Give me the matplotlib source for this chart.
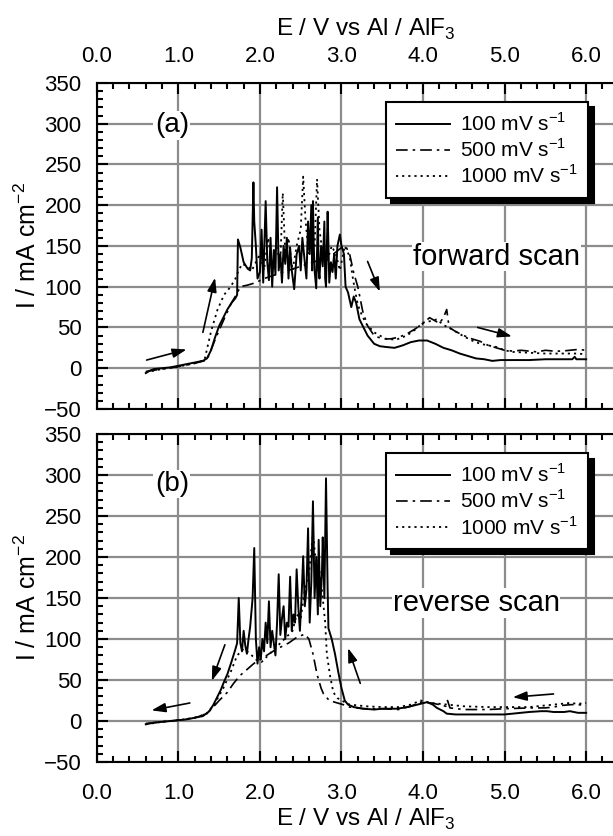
import matplotlib
matplotlib.use("Agg")
import matplotlib.pyplot as plt
from matplotlib.ticker import MultipleLocator, FormatStrFormatter

plt.rcParams['font.family'] = ['Liberation Sans', 'DejaVu Sans']
plt.rcParams['mathtext.fontset'] = 'custom'
plt.rcParams['mathtext.rm'] = 'Liberation Sans'

# ---- data ----
labels = [r'100 mV s$^{\mathregular{-1}}$', r'500 mV s$^{\mathregular{-1}}$',
          r'1000 mV s$^{\mathregular{-1}}$']

# (a) forward scan
fwd_100_x = [0.60, 0.65, 0.70, 0.80, 0.90, 1.00, 1.10, 1.20, 1.30, 1.35, 1.40, 1.45, 1.50,
             1.55, 1.60, 1.65, 1.70, 1.72, 1.73, 1.76, 1.80, 1.85, 1.88, 1.90, 1.92, 1.93,
             1.95, 1.97, 2.00, 2.02, 2.04, 2.07, 2.09, 2.11, 2.13, 2.15, 2.17, 2.19, 2.21,
             2.23, 2.25, 2.27, 2.29, 2.31, 2.33, 2.35, 2.37, 2.39, 2.42, 2.45, 2.48, 2.50,
             2.52, 2.55, 2.57, 2.59, 2.61, 2.63, 2.64, 2.65, 2.66, 2.67, 2.69, 2.71, 2.72,
             2.73, 2.75, 2.77, 2.79, 2.80, 2.81, 2.83, 2.84, 2.85, 2.87, 2.89, 2.91, 2.93,
             2.95, 2.98, 3.00, 3.03, 3.05, 3.08, 3.12, 3.15, 3.18, 3.22, 3.27, 3.32, 3.40,
             3.47, 3.55, 3.65, 3.75, 3.85, 3.95, 4.05, 4.15, 4.25, 4.35, 4.45, 4.55, 4.65,
             4.75, 4.85, 4.95, 5.10, 5.30, 5.50, 5.70, 5.83, 5.86, 5.88, 6.00]
fwd_100_y = [-6, -3, -1, 0, 1, 3, 5, 7, 9, 12, 22, 38, 52,
             62, 72, 80, 86, 90, 158, 148, 130, 122, 120, 135, 228, 180,
             150, 110, 118, 170, 105, 205, 130, 108, 160, 100, 145, 115, 222,
             120, 140, 105, 150, 128, 160, 110, 148, 120, 97, 140, 150, 120,
             160, 130, 110, 180, 140, 200, 120, 205, 150, 120, 98, 185, 120,
             110, 150, 125, 180, 110, 100, 192, 150, 105, 130, 118, 140, 110,
             150, 164, 150, 140, 100, 93, 75, 88, 80, 60, 50, 40, 30,
             27, 26, 25, 28, 32, 34, 34, 30, 25, 22, 18, 15, 12,
             11, 9, 10, 10, 10, 11, 11, 11, 14, 11, 11]

fwd_500_x = [0.60, 0.80, 1.00, 1.20, 1.35, 1.45, 1.55, 1.65, 1.72, 1.76, 1.85, 1.95, 2.05,
             2.20, 2.35, 2.50, 2.65, 2.80, 2.90, 3.00, 3.05, 3.10, 3.15, 3.20, 3.26, 3.32,
             3.40, 3.50, 3.60, 3.70, 3.80, 3.90, 4.00, 4.08, 4.15, 4.20, 4.25, 4.29, 4.32,
             4.40, 4.50, 4.60, 4.70, 4.80, 4.90, 5.00, 5.10, 5.20, 5.30, 5.40, 5.50, 5.60,
             5.70, 5.80, 5.90, 6.00]
fwd_500_y = [-4, -1, 2, 6, 10, 35, 58, 80, 92, 100, 102, 105, 110,
             115, 120, 125, 130, 135, 140, 148, 150, 140, 117, 100, 70, 52,
             40, 36, 36, 38, 42, 48, 55, 62, 58, 55, 62, 72, 50,
             45, 40, 36, 33, 28, 25, 22, 21, 22, 21, 20, 22, 21,
             21, 22, 23, 22]

fwd_1000_x = [0.60, 0.80, 1.00, 1.20, 1.32, 1.40, 1.48, 1.56, 1.64, 1.70, 1.73, 1.78, 1.85,
              1.90, 1.95, 2.00, 2.05, 2.10, 2.15, 2.20, 2.25, 2.28, 2.31, 2.35, 2.40, 2.45,
              2.50, 2.53, 2.56, 2.60, 2.63, 2.67, 2.70, 2.73, 2.77, 2.82, 2.88, 2.93, 2.98,
              3.04, 3.10, 3.14, 3.17, 3.20, 3.25, 3.30, 3.40, 3.47, 3.55, 3.67, 3.80, 3.90,
              4.00, 4.10, 4.17, 4.25, 4.35, 4.50, 4.60, 4.70, 4.80, 4.90, 5.00, 5.10, 5.30,
              5.50, 5.70, 5.90, 6.00]
fwd_1000_y = [-5, -1, 2, 6, 10, 45, 72, 90, 100, 110, 118, 128, 125,
              120, 130, 140, 120, 160, 125, 150, 130, 215, 140, 160, 120, 150,
              170, 235, 180, 140, 160, 150, 232, 170, 140, 130, 150, 140, 120,
              150, 137, 110, 93, 78, 65, 55, 44, 40, 36, 35, 40, 47,
              56, 58, 60, 53, 48, 39, 34, 30, 28, 26, 22, 20, 19,
              18, 18, 18, 17]

# (b) reverse scan
rev_100_x = [0.60, 0.70, 0.80, 0.90, 1.00, 1.10, 1.20, 1.30, 1.38, 1.43, 1.47, 1.52, 1.56,
             1.60, 1.65, 1.70, 1.72, 1.74, 1.76, 1.78, 1.80, 1.82, 1.84, 1.86, 1.88, 1.91,
             1.93, 1.95, 1.97, 1.99, 2.01, 2.03, 2.05, 2.07, 2.09, 2.11, 2.13, 2.15, 2.17,
             2.19, 2.21, 2.23, 2.25, 2.27, 2.29, 2.31, 2.33, 2.35, 2.37, 2.39, 2.41, 2.43,
             2.45, 2.47, 2.49, 2.51, 2.53, 2.55, 2.57, 2.59, 2.61, 2.63, 2.65, 2.67, 2.69,
             2.71, 2.72, 2.74, 2.76, 2.77, 2.79, 2.81, 2.83, 2.84, 2.88, 2.92, 2.96, 3.00,
             3.04, 3.08, 3.15, 3.27, 3.40, 3.50, 3.67, 3.75, 3.85, 3.97, 4.05, 4.12, 4.17,
             4.25, 4.29, 4.40, 4.50, 4.70, 4.90, 5.00, 5.10, 5.20, 5.30, 5.45, 5.52, 5.60,
             5.73, 5.80, 5.90, 6.00]
rev_100_y = [-4, -2, -1, 0, 1, 2, 4, 6, 12, 20, 28, 38, 48,
             57, 72, 88, 95, 150, 95, 85, 110, 92, 82, 100, 115, 150,
             211, 100, 70, 90, 75, 100, 85, 120, 95, 146, 90, 110, 95,
             80, 120, 179, 105, 125, 140, 100, 120, 115, 176, 110, 130, 120,
             185, 140, 110, 150, 201, 140, 160, 235, 120, 170, 268, 150, 200,
             130, 221, 140, 180, 224, 150, 296, 160, 113, 100, 82, 60, 40,
             25, 20, 17, 15, 14, 15, 15, 16, 18, 21, 23, 20, 16,
             12, 9, 8, 8, 8, 8, 8, 9, 10, 11, 12, 12, 11,
             11, 12, 10, 10]

rev_500_x = [0.60, 0.80, 1.00, 1.20, 1.30, 1.40, 1.50, 1.60, 1.67, 1.75, 1.82, 1.90, 1.96,
             2.05, 2.16, 2.25, 2.35, 2.45, 2.55, 2.60, 2.65, 2.70, 2.75, 2.78, 2.85, 2.95,
             3.02, 3.10, 3.27, 3.50, 3.70, 3.85, 3.97, 4.10, 4.20, 4.28, 4.30, 4.33, 4.50,
             4.80, 5.00, 5.33, 5.50, 5.60, 5.70, 5.82, 5.90, 6.00]
rev_500_y = [-3, -1, 1, 4, 7, 14, 25, 35, 45, 55, 61, 68, 73,
             78, 85, 90, 95, 102, 106, 100, 82, 57, 40, 33, 25, 22,
             20, 17, 15, 15, 14, 18, 23, 22, 20, 18, 25, 16, 14,
             14, 15, 16, 16, 17, 19, 20, 20, 19]

rev_1000_x = [0.60, 0.80, 1.00, 1.20, 1.35, 1.45, 1.55, 1.65, 1.72, 1.80, 1.88, 1.95, 2.02,
              2.10, 2.20, 2.30, 2.40, 2.45, 2.50, 2.55, 2.60, 2.65, 2.68, 2.72, 2.76, 2.80,
              2.82, 2.86, 2.90, 2.95, 3.00, 3.10, 3.30, 3.50, 3.70, 3.85, 3.97, 4.10, 4.20,
              4.30, 4.50, 4.80, 5.00, 5.30, 5.60, 5.80, 5.90, 6.00]
rev_1000_y = [-4, -1, 1, 4, 9, 22, 40, 62, 80, 88, 82, 75, 72,
              80, 90, 100, 110, 130, 125, 160, 180, 228, 200, 190, 160, 120,
              82, 55, 35, 28, 25, 20, 18, 17, 17, 20, 25, 22, 21,
              20, 18, 17, 17, 17, 20, 22, 21, 22]

# arrows: (tail_x, tail_y, head_x, head_y)
arrows_a = [(0.61, 10, 1.10, 23), (1.30, 44, 1.45, 111),
            (3.32, 131, 3.47, 94), (4.67, 50, 5.09, 39)]
arrows_b = [(1.14, 22, 0.67, 13), (1.57, 93, 1.41, 49),
            (3.23, 46, 3.08, 89), (5.60, 33, 5.10, 29)]

styles = [dict(ls='-', lw=1.4), dict(ls=(0, (7, 3, 1.5, 3)), lw=1.2), dict(ls=(0, (1.2, 2.2)), lw=1.3)]

xlabel = r'E / V vs Al / AlF$_{\mathregular{3}}$'
ylabel = r'I / mA cm$^{\mathregular{-2}}$'

fig = plt.figure(figsize=(6.13, 8.36), dpi=100)
ax1 = fig.add_axes([0.158, 0.5108, 0.878, 0.3900])
ax2 = fig.add_axes([0.158, 0.0885, 0.878, 0.3923])


def style(ax, top):
    ax.set_xlim(0, 6.6)
    ax.set_ylim(-50, 350)
    ax.xaxis.set_major_locator(MultipleLocator(1))
    ax.xaxis.set_minor_locator(MultipleLocator(0.2))
    ax.yaxis.set_major_locator(MultipleLocator(50))
    ax.yaxis.set_minor_locator(MultipleLocator(10))
    ax.xaxis.set_major_formatter(FormatStrFormatter('%.1f'))
    ax.tick_params(which='both', direction='in', top=True, bottom=True, left=True,
                   right=False, labeltop=top, labelbottom=not top, labelsize=16,
                   width=1.5, colors='k')
    ax.tick_params(which='major', length=8)
    ax.tick_params(which='minor', length=4)
    ax.tick_params(axis='x', pad=11.5 if top else 15)
    ax.tick_params(axis='y', pad=11)
    ax.grid(True, which='major', color='0.55', lw=1.6)
    ax.set_axisbelow(True)
    for s in ax.spines.values():
        s.set_linewidth(1.5)
    ax.spines['right'].set_visible(False)
    ax.set_ylabel(ylabel, fontsize=18, labelpad=2)
    if top:
        ax.xaxis.set_label_position('top')
    ax.set_xlabel(xlabel, fontsize=17.5, labelpad=7 if top else 2)


for ax, series, arrows, tag, note, nx, ny in [
        (ax1, [(fwd_100_x, fwd_100_y), (fwd_500_x, fwd_500_y), (fwd_1000_x, fwd_1000_y)],
         arrows_a, '(a)', 'forward scan', 4.90, 137),
        (ax2, [(rev_100_x, rev_100_y), (rev_500_x, rev_500_y), (rev_1000_x, rev_1000_y)],
         arrows_b, '(b)', 'reverse scan', 4.65, 144)]:
    style(ax, ax is ax1)
    for (x, y), st, lab in zip(series, styles, labels):
        ax.plot(x, y, color='k', label=lab, **st)
    for tx, ty, hx, hy in arrows:
        ax.annotate('', xy=(hx, hy), xytext=(tx, ty),
                    arrowprops=dict(arrowstyle='-|>,head_length=0.6,head_width=0.2',
                                    color='k', lw=1.2, mutation_scale=14,
                                    shrinkA=0, shrinkB=0))
    ax.text(0.92, 298 if ax is ax1 else 289, tag, fontsize=20, ha='center', va='center',
            bbox=dict(fc='white', ec='none', pad=1))
    ax.text(nx, ny, note, fontsize=21, ha='center', va='center',
            bbox=dict(fc='white', ec='none', pad=0.5))
    leg = ax.legend(loc='upper left', bbox_to_anchor=(0.537, 0.942), borderaxespad=0,
                    fontsize=15, handlelength=2.6, handletextpad=0.45, labelspacing=0.17,
                    borderpad=0.5, fancybox=False, framealpha=1, edgecolor='k',
                    shadow={'color': 'k', 'alpha': 1, 'ox': 4, 'oy': -4})
    leg.get_frame().set_linewidth(1.5)

fig.savefig('out.png', dpi=100)
